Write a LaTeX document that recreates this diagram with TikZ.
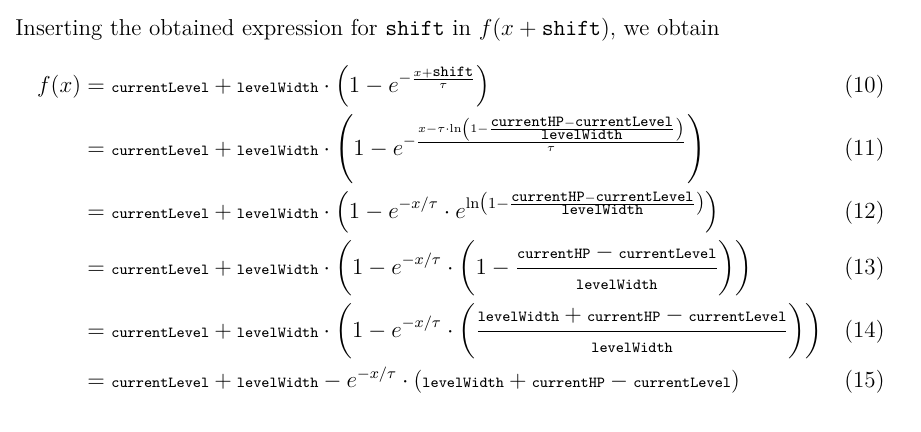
\documentclass[tikz,border=0pt,12pt]{standalone}
\usepackage{amsmath}
\usepackage{amssymb}
\usetikzlibrary{positioning,calc}
\newcommand{\vname}[1]{\text{\scriptsize\ttfamily #1}}

\begin{document}
\begin{tikzpicture}

\useasboundingbox (0,0) rectangle (480pt,-225pt);

\node [anchor=north west,inner sep=0pt,text width=453pt] (deriv) at (7.8pt,-9.1pt) {%
\noindent Inserting the obtained expression for \texttt{shift} in $f(x+\texttt{shift})$, we obtain
\setcounter{equation}{9}
\begin{align}
f(x) &= \vname{currentLevel} + \vname{levelWidth}\cdot\left(1-e^{-\frac{x+\vname{shift}}{\tau}}\right)\\
&= \vname{currentLevel} + \vname{levelWidth}\cdot\left(1-e^{-\frac{x-\tau\cdot\ln\left(1-\frac{\vname{currentHP}-\vname{currentLevel}}{\vname{levelWidth}}\right)}{\tau}}\right)\\
&= \vname{currentLevel} + \vname{levelWidth}\cdot\left(1-e^{-x/\tau}\cdot e^{\ln\left(1-\frac{\vname{currentHP}-\vname{currentLevel}}{\vname{levelWidth}}\right)}\right)\\
&= \vname{currentLevel} + \vname{levelWidth}\cdot\left(1-e^{-x/\tau}\cdot\left(1-\frac{\vname{currentHP}-\vname{currentLevel}}{\vname{levelWidth}}\right)\right)\\
&= \vname{currentLevel} + \vname{levelWidth}\cdot\left(1-e^{-x/\tau}\cdot\left(\frac{\vname{levelWidth}+\vname{currentHP}-\vname{currentLevel}}{\vname{levelWidth}}\right)\right)\\
&= \vname{currentLevel} + \vname{levelWidth}-e^{-x/\tau}\cdot\left(\vname{levelWidth}+\vname{currentHP}-\vname{currentLevel}\right)
\end{align}};

\end{tikzpicture}
\end{document}
